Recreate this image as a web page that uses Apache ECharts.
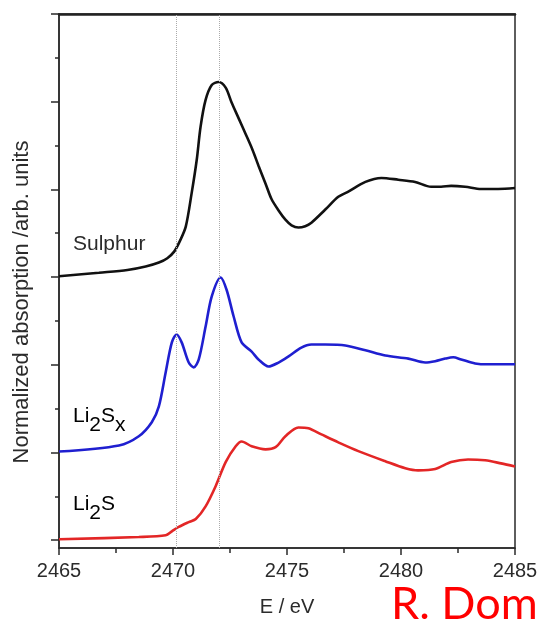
<!DOCTYPE html>
<html>
<head>
<meta charset="utf-8">
<script src="https://cdn.jsdelivr.net/npm/echarts@6/dist/echarts.min.js"></script>
<style>html,body{margin:0;padding:0;background:#fff;}#c{width:540px;height:621px;}</style>
</head>
<body>
<div id="c"></div>
<script>
var xTicks = [2465, 2470, 2475, 2480, 2485];
var markEnergies = [2470.15, 2472.05];

var sulphurE = [2465.0, 2466.75, 2468.0, 2468.8, 2469.38, 2469.75, 2470.05, 2470.3, 2470.56, 2470.82, 2471.04, 2471.21, 2471.43, 2471.70, 2472.00, 2472.31, 2472.57, 2472.88, 2473.18, 2473.49, 2473.75, 2474.06, 2474.32, 2474.63, 2474.93, 2475.20, 2475.50, 2475.80, 2476.07, 2476.68, 2477.25, 2477.69, 2478.44, 2479.14, 2479.88, 2480.62, 2481.32, 2481.76, 2482.20, 2482.81, 2483.51, 2484.26, 2485.0];
var sulphurV = [6.02, 6.10, 6.16, 6.24, 6.33, 6.43, 6.58, 6.82, 7.15, 7.92, 8.67, 9.43, 10.04, 10.38, 10.45, 10.32, 9.98, 9.62, 9.27, 8.90, 8.54, 8.13, 7.78, 7.52, 7.31, 7.18, 7.13, 7.16, 7.24, 7.54, 7.83, 7.95, 8.17, 8.26, 8.22, 8.17, 8.06, 8.06, 8.08, 8.06, 8.01, 8.01, 8.03];

var li2sxE = [2465.0, 2467.63, 2468.50, 2469.07, 2469.38, 2469.68, 2469.95, 2470.16, 2470.38, 2470.69, 2470.91, 2471.13, 2471.43, 2471.70, 2472.09, 2472.35, 2472.66, 2473.01, 2473.45, 2473.75, 2474.19, 2474.63, 2475.07, 2475.63, 2476.07, 2476.68, 2477.56, 2478.44, 2479.31, 2480.32, 2481.06, 2481.50, 2481.94, 2482.29, 2482.64, 2483.25, 2483.82, 2485.0];
var li2sxV = [2.02, 2.16, 2.37, 2.69, 3.05, 3.83, 4.51, 4.69, 4.51, 4.05, 3.94, 4.12, 4.87, 5.56, 5.99, 5.71, 5.10, 4.51, 4.30, 4.12, 3.96, 4.05, 4.19, 4.39, 4.46, 4.46, 4.44, 4.33, 4.21, 4.14, 4.05, 4.08, 4.14, 4.17, 4.12, 4.03, 4.01, 4.01];

var li2sE = [2465.0, 2468.50, 2469.68, 2469.95, 2470.25, 2470.69, 2471.00, 2471.43, 2471.87, 2472.31, 2472.75, 2473.01, 2473.45, 2474.06, 2474.50, 2474.93, 2475.50, 2475.94, 2476.51, 2477.25, 2478.13, 2479.31, 2480.19, 2480.75, 2481.50, 2482.20, 2482.94, 2483.69, 2484.39, 2485.0];
var li2sV = [0.02, 0.07, 0.11, 0.20, 0.30, 0.41, 0.48, 0.77, 1.23, 1.78, 2.14, 2.25, 2.14, 2.07, 2.12, 2.37, 2.57, 2.55, 2.41, 2.23, 2.03, 1.80, 1.64, 1.59, 1.62, 1.78, 1.84, 1.82, 1.75, 1.68];

var majorY = [0, 2, 4, 6, 8, 10, 12];
var minorY = [1, 3, 5, 7, 9, 11];

function zip(a, b) { return a.map(function (v, i) { return [v, b[i]]; }); }

var chart = echarts.init(document.getElementById('c'), null, {renderer: 'canvas'});
var font = '"Liberation Sans", Arial, sans-serif';
var yMin = -0.18, yMax = 12;
var axisCol = '#2a2a2a';

function lineSeries(name, e, v, color, extra) {
  var s = {
    type: 'line', name: name, data: zip(e, v), showSymbol: false, smooth: 0.3,
    lineStyle: {color: color, width: 2.6}, z: 3
  };
  if (extra) { for (var k in extra) s[k] = extra[k]; }
  return s;
}

var richLbl = {
  a: {fontSize: 21, fontFamily: font, color: '#2b2b2b', lineHeight: 21, verticalAlign: 'top'},
  b: {fontSize: 21, fontFamily: font, color: '#2b2b2b', lineHeight: 30, verticalAlign: 'bottom'}
};

chart.setOption({
  animation: false,
  backgroundColor: '#fff',
  grid: {left: 59, right: 25, top: 14, bottom: 73, show: true, borderColor: axisCol, borderWidth: 1.5, outerBoundsMode: 'none', containLabel: false},
  xAxis: [{
    type: 'value', min: xTicks[0], max: xTicks[xTicks.length - 1], interval: 5,
    axisLine: {show: true, onZero: false, lineStyle: {color: axisCol, width: 1.5}},
    axisTick: {show: true, inside: false, length: 7, lineStyle: {color: axisCol, width: 1.5}},
    minorTick: {show: true, splitNumber: 2, length: 5, lineStyle: {color: axisCol, width: 1.5}},
    splitLine: {show: false},
    axisLabel: {fontSize: 20, color: '#2b2b2b', fontFamily: font, margin: 13, formatter: function (v) { return String(v); }},
    name: 'E / eV', nameLocation: 'middle', nameGap: 49,
    nameTextStyle: {fontSize: 20, color: '#2b2b2b', fontFamily: font}
  }, {
    type: 'value', position: 'top', min: xTicks[0], max: xTicks[xTicks.length - 1],
    axisLine: {show: true, onZero: false, lineStyle: {color: '#222', width: 2.5}},
    axisTick: {show: false}, axisLabel: {show: false}, splitLine: {show: false}
  }],
  yAxis: [{
    type: 'value', min: yMin, max: yMax, position: 'left',
    axisLine: {show: true, onZero: false, lineStyle: {color: axisCol, width: 1.5}},
    axisTick: {show: true, length: 8, customValues: majorY, lineStyle: {color: axisCol, width: 1.5}},
    axisLabel: {show: false}, splitLine: {show: false}
  }, {
    type: 'value', min: yMin, max: yMax, position: 'left',
    axisLine: {show: false, onZero: false},
    axisTick: {show: true, length: 4, customValues: minorY, lineStyle: {color: axisCol, width: 1.5}},
    axisLabel: {show: false}, splitLine: {show: false}
  }],
  series: [
    lineSeries('Sulphur', sulphurE, sulphurV, '#111', {
      markLine: {
        silent: true, symbol: 'none', label: {show: false},
        lineStyle: {color: '#aaa', type: 'dotted', width: 1},
        data: markEnergies.map(function (e) { return {xAxis: e}; })
      }
    }),
    lineSeries('Li2Sx', li2sxE, li2sxV, '#1f1fd0'),
    lineSeries('Li2S', li2sE, li2sV, '#e32626')
  ],
  graphic: [
    {type: 'text', x: 73, y: 234, style: {text: 'Sulphur', font: '21px ' + font, fill: '#2b2b2b', verticalAlign: 'top'}},
    {type: 'text', x: 73, y: 406, style: {text: '{a|Li}{b|2}{a|S}{b|x}', verticalAlign: 'top', rich: richLbl}},
    {type: 'text', x: 73, y: 494, style: {text: '{a|Li}{b|2}{a|S}', verticalAlign: 'top', rich: richLbl}},
    {type: 'text', x: 22, y: 302, rotation: Math.PI / 2, style: {text: 'Normalized absorption /arb. units', font: '22px ' + font, fill: '#2b2b2b', align: 'center', verticalAlign: 'middle'}},
    {type: 'text', x: 391, y: 604, style: {text: 'R. Dom', font: '45px Lato, "Open Sans", sans-serif', fill: '#ff0000', verticalAlign: 'middle'}}
  ]
});
</script>
</body>
</html>
